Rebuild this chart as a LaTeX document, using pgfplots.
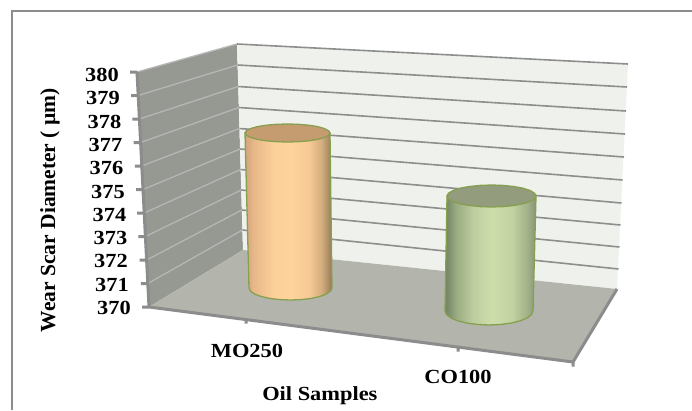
\documentclass[border=0pt]{standalone}
\usepackage{pgfplots}
\pgfplotsset{compat=1.18}
\usepackage{fontspec}
\setmainfont{Liberation Serif}
\newfontfamily\wide{Liberation Serif}[FakeStretch=1.12]
\newfontfamily\plain{Liberation Serif}
\definecolor{gridc}{HTML}{8E8E8E}
\definecolor{edgec}{HTML}{8C8C8C}
\definecolor{wallc}{HTML}{EFF2EC}
\definecolor{sidec}{HTML}{969892}
\definecolor{floorc}{HTML}{B3B5AD}
\definecolor{outl}{HTML}{86A050}
\definecolor{otop}{RGB}{197,155,112}
\definecolor{gtop}{RGB}{147,156,125}
\pgfdeclarehorizontalshading{ocyl}{100bp}{
 rgb(0bp)=(0.82,0.64,0.48); rgb(25bp)=(0.82,0.64,0.48); rgb(30bp)=(0.91,0.72,0.54);
 rgb(42bp)=(0.99,0.82,0.60); rgb(52bp)=(1.00,0.83,0.61); rgb(62bp)=(0.96,0.79,0.58);
 rgb(69bp)=(0.83,0.68,0.49); rgb(75bp)=(0.58,0.48,0.35); rgb(100bp)=(0.58,0.48,0.35)}
\pgfdeclarehorizontalshading{gcyl}{100bp}{
 rgb(0bp)=(0.44,0.51,0.38); rgb(25bp)=(0.44,0.51,0.38); rgb(31bp)=(0.60,0.67,0.51);
 rgb(40bp)=(0.74,0.80,0.62); rgb(51bp)=(0.81,0.87,0.67); rgb(62bp)=(0.76,0.82,0.63);
 rgb(70bp)=(0.64,0.70,0.54); rgb(75bp)=(0.53,0.59,0.46); rgb(100bp)=(0.53,0.59,0.46)}
\begin{document}
\begin{tikzpicture}[x=1pt,y=1pt]
\path[use as bounding box] (0,0) rectangle (692,410);
% canvas: scenery and cylinders, positions in picture pixels
\begin{axis}[at={(0,0)},anchor=south west,scale only axis,width=692pt,height=410pt,
  xmin=0,xmax=692,ymin=0,ymax=410,y dir=reverse,hide axis,clip=false,unbounded coords=jump]
\addplot[draw=edgec,line width=2.5pt] coordinates {(12,410) (12,11) (692,11)};
\addplot[fill=sidec,draw=none] coordinates {(137,72) (237,44) (243,250) (149,307)} --cycle;
\addplot[fill=wallc,draw=none] coordinates {(237,44) (628,64) (617,289) (243,250)} --cycle;
\addplot[fill=floorc,draw=none] coordinates {(149,307) (243,250) (617,289) (573,362)} --cycle;
% grid on the back wall
\addplot[draw=gridc,line width=1.6pt] coordinates {
(237,44) (628,64) (nan,nan)
(237.6,65) (627,87) (nan,nan)
(238.2,86.5) (626,111) (nan,nan)
(238.8,107.5) (625,134) (nan,nan)
(239.4,128.5) (624,157) (nan,nan)
(240,149) (622.5,180) (nan,nan)
(240.6,169.5) (621.5,203) (nan,nan)
(241.2,190) (620.5,225) (nan,nan)
(241.8,210) (619.5,247) (nan,nan)
(242.4,230) (618.5,269)};
% grid on the side wall, with its ticks
\addplot[draw=gridc!65!white,line width=1.3pt] coordinates {
(137,72) (237,44) (nan,nan)
(138.2,95.5) (237.6,65) (nan,nan)
(139.4,119) (238.2,86.5) (nan,nan)
(140.6,142.5) (238.8,107.5) (nan,nan)
(141.8,166) (239.4,128.5) (nan,nan)
(143,189.5) (240,149) (nan,nan)
(144.2,213) (240.6,169.5) (nan,nan)
(145.4,236.5) (241.2,190) (nan,nan)
(146.6,260) (241.8,210) (nan,nan)
(147.8,283.5) (242.4,230)};
\addplot[draw=edgec,line width=3pt] coordinates {
(130,72) (137,72) (nan,nan)
(131.2,95.5) (138.2,95.5) (nan,nan)
(132.4,119) (139.4,119) (nan,nan)
(133.6,142.5) (140.6,142.5) (nan,nan)
(134.8,166) (141.8,166) (nan,nan)
(136,189.5) (143,189.5) (nan,nan)
(137.2,213) (144.2,213) (nan,nan)
(138.4,236.5) (145.4,236.5) (nan,nan)
(139.6,260) (146.6,260) (nan,nan)
(140.8,283.5) (147.8,283.5) (nan,nan)
(142,307) (149,307) (nan,nan)
(137,72) (149,307) (nan,nan)
(149,307) (573,362) (617,289) (nan,nan)
(246,319) (246,323.5) (nan,nan)
(458,347) (458,351.5) (nan,nan)
(573,362) (573,366.5)};
% MO250 cylinder
\addplot[shading=ocyl,draw=outl,line width=1.3pt] coordinates {
(245,133) (249,288) (250.4,291.1) (254.6,294) (261.2,296.5) (269.7,298.4) (279.8,299.6) (290.5,300)
(301.2,299.6) (311.3,298.4) (319.8,296.5) (326.4,294) (330.6,291.1) (332,288) (330,133)} --cycle;
\addplot[fill=otop,draw=outl,line width=1.3pt] coordinates {
(330,133) (328.6,135.3) (324.3,137.5) (317.6,139.4) (308.8,140.8) (298.5,141.7) (287.5,142) (276.5,141.7)
(266.2,140.8) (257.4,139.4) (250.7,137.5) (246.4,135.3) (245,133) (246.4,130.7) (250.7,128.5) (257.4,126.6)
(266.2,125.2) (276.5,124.3) (287.5,124) (298.5,124.3) (308.8,125.2) (317.6,126.6) (324.3,128.5) (328.6,130.7)} --cycle;
% CO100 cylinder
\addplot[shading=gcyl,draw=outl,line width=1.3pt] coordinates {
(447,196) (445,311) (446.5,314.6) (450.9,318) (457.9,320.9) (467,323.1) (477.6,324.5) (489,325)
(500.4,324.5) (511,323.1) (520.1,320.9) (527.1,318) (531.5,314.6) (533,311) (536,196)} --cycle;
\addplot[fill=gtop,draw=outl,line width=1.3pt] coordinates {
(536,196) (534.5,198.8) (530,201.5) (523,203.8) (513.8,205.5) (503,206.6) (491.5,207) (480,206.6)
(469.2,205.5) (460,203.8) (453,201.5) (448.5,198.8) (447,196) (448.5,193.2) (453,190.5) (460,188.2)
(469.2,186.5) (480,185.4) (491.5,185) (503,185.4) (513.8,186.5) (523,188.2) (530,190.5) (534.5,193.2)} --cycle;
\end{axis}
% value axis: real ticks and labels
\begin{axis}[at={(131pt,102pt)},anchor=south west,scale only axis,width=509pt,height=233pt,
  xmin=131,xmax=640,ymin=370,ymax=380,clip=false,
  axis line style={draw=none},major tick length=0pt,tick style={draw=none},
  ytick={370,371,372,373,374,375,376,377,378,379,380},
  yticklabels={370,371\kern2pt,372\kern3pt,373\kern3.5pt,374\kern4.5pt,375\kern6pt,376\kern7.5pt,377\kern8.5pt,378\kern9.5pt,379\kern11pt,380\kern12pt},
  yticklabel style={anchor=east,inner sep=0pt,font=\fontsize{20pt}{24pt}\selectfont\wide\bfseries},
  xtick={247,458},
  xticklabels={MO250,\raisebox{-26pt}{CO100}},
  xticklabel style={anchor=base,inner sep=0pt,yshift=-49pt,font=\fontsize{20pt}{24pt}\selectfont\wide\bfseries},
  xlabel={Oil Samples},
  ylabel={Wear Scar Diameter ( µm)},
  every axis x label/.style={at={(axis description cs:0.371,-0.395)},anchor=base,inner sep=0pt,font=\fontsize{20pt}{24pt}\selectfont\wide\bfseries},
  every axis y label/.style={at={(axis description cs:-0.159,0.42)},anchor=center,rotate=90,inner sep=0pt,font=\fontsize{21.5pt}{24pt}\selectfont\plain\bfseries},
]
\end{axis}
\end{tikzpicture}
\end{document}
